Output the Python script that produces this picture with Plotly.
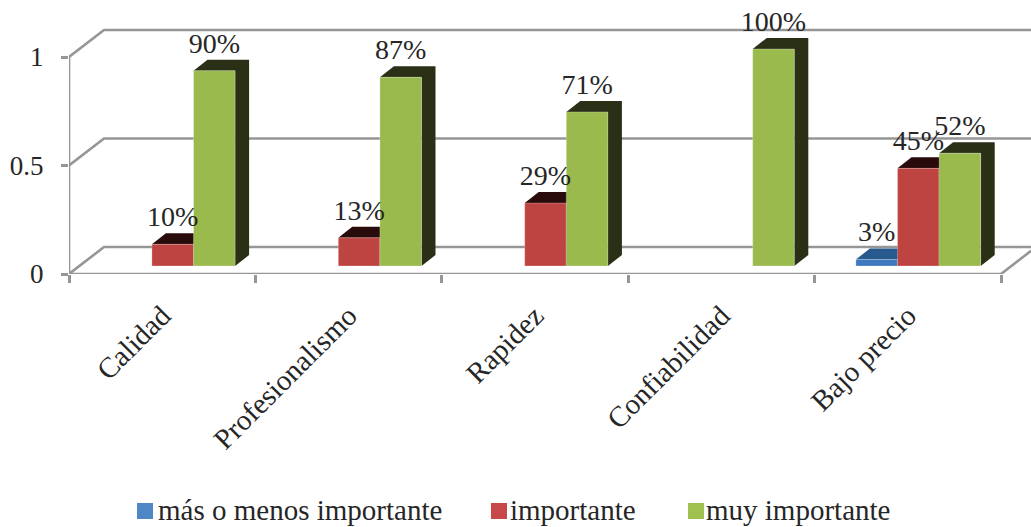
import plotly.graph_objects as go

categories = ["Calidad", "Profesionalismo", "Rapidez", "Confiabilidad", "Bajo precio"]
mas_o_menos = [None, None, None, None, 0.03]
importante = [0.10, 0.13, 0.29, None, 0.45]
muy_importante = [0.90, 0.87, 0.71, 1.00, 0.52]
y_ticks = [0, 0.5, 1]
y_tick_labels = ["0", "0.5", "1"]

W, H = 1031, 527
X0, X5, Y0, Y1 = 69, 1001, 274, 57
px_x = (X5 - X0) / len(categories)
px_y = float(Y0 - Y1)
x_range = [0, (W - X0) / px_x]
y_range = [0, Y0 / px_y]

# Projection of the 3-D box, in axis units
wall_dx, wall_dy = 35 / px_x, 27 / px_y
bar_dx, bar_dy = 14 / px_x, 11 / px_y
bar_width = 41.6 / px_x
bar_start = 41.3 / px_x
bar_base = 8 / px_y
label_gap = 25 / px_y

FONT = "Liberation Serif"
INK = "#262626"
GRID = "#969696"
GRID_W = 2.6

series = [
    ("más o menos importante", mas_o_menos, "#3F79BE", "#295A8E", "#4F86C6"),
    ("importante", importante, "#BE4441", "#2A0B0B", "#C8484A"),
    ("muy importante", muy_importante, "#9BBA4D", "#2A3016", "#A0C050"),
]

fig = go.Figure()

# Back wall, side wall and floor
wall_x, wall_y = [], []
for t in y_ticks:
    wall_x += [0, wall_dx, x_range[1], None]
    wall_y += [t, t + wall_dy, t + wall_dy, None]
wall_x += [0, 0, None, 0, len(categories), x_range[1], None]
wall_y += [0, 1, None, 0, 0, (x_range[1] - len(categories)) * wall_dy / wall_dx, None]
fig.add_trace(go.Scatter(x=wall_x, y=wall_y, mode="lines", hoverinfo="skip", showlegend=False,
                         line=dict(color=GRID, width=GRID_W)))

# Top and side faces sit behind every front face
for k, (name, values, front, dark, _) in enumerate(series):
    fx, fy = [], []
    for i, v in enumerate(values):
        if v is None:
            continue
        left = i + bar_start + k * bar_width
        right = left + bar_width
        top = bar_base + v
        fx += [left, left + bar_dx, right + bar_dx, right + bar_dx, right, right, None]
        fy += [top, top + bar_dy, top + bar_dy, bar_base + bar_dy, bar_base, top, None]
    fig.add_trace(go.Scatter(x=fx, y=fy, mode="lines", fill="toself", fillcolor=dark,
                             line=dict(width=0, color=dark), hoverinfo="skip", showlegend=False))

# Front faces and value labels on the overlaid axes
for k, (name, values, front, dark, _) in enumerate(series):
    xs = [i + bar_start + (k + 0.5) * bar_width for i in range(len(values))]
    fig.add_trace(go.Bar(x=xs, y=values, base=bar_base, width=bar_width, name=name,
                         marker=dict(color=front, line=dict(color="rgba(255,255,255,0.25)", width=1)),
                         xaxis="x2", yaxis="y2", showlegend=False))
for k, (name, values, front, dark, _) in enumerate(series):
    kept = [(i, v) for i, v in enumerate(values) if v is not None]
    fig.add_trace(go.Scatter(
        x=[i + bar_start + (k + 0.5) * bar_width for i, _ in kept],
        y=[bar_base + v + label_gap for _, v in kept],
        text=[f"{round(v * 100)}%" for _, v in kept],
        mode="text", textposition="middle center", cliponaxis=False,
        textfont=dict(family=FONT, size=28, color=INK),
        xaxis="x2", yaxis="y2", hoverinfo="skip", showlegend=False))

# Legend row
legend_items = [(137, 156), (491, 508), (688, 704)]
shapes, notes = [], []
for (swatch_x, text_x), (name, _, _, _, swatch) in zip(legend_items, series):
    shapes.append(dict(type="rect", xref="paper", yref="paper", line=dict(width=0),
                       fillcolor=swatch, x0=swatch_x / W, x1=(swatch_x + 16) / W,
                       y0=1 - 519 / H, y1=1 - 503 / H))
    notes.append(dict(text=name, xref="paper", yref="paper", x=text_x / W, y=1 - 510 / H,
                      xanchor="left", yanchor="middle", showarrow=False,
                      font=dict(family=FONT, size=29, color=INK)))

domain_x = [X0 / W, 1]
domain_y = [1 - Y0 / H, 1]
fig.update_layout(
    width=W, height=H, margin=dict(l=0, r=0, t=0, b=0, autoexpand=False),
    paper_bgcolor="white", plot_bgcolor="white", showlegend=False, barmode="overlay",
    shapes=shapes, annotations=notes,
    xaxis=dict(domain=domain_x, range=x_range, showgrid=False, zeroline=False, showline=False,
               tickmode="array", tickvals=[i + 0.5 for i in range(len(categories))],
               ticktext=categories, tickangle=-45, ticks="", ticklabelstandoff=18,
               tickfont=dict(family=FONT, size=29, color=INK),
               minor=dict(tickmode="array", tickvals=list(range(len(categories) + 1)),
                          ticks="outside", ticklen=8, tickwidth=GRID_W, tickcolor=GRID, showgrid=False)),
    yaxis=dict(domain=domain_y, range=y_range, showgrid=False, zeroline=False, showline=False,
               tickmode="array", tickvals=y_ticks, ticktext=y_tick_labels,
               ticks="outside", ticklen=7, tickwidth=GRID_W, tickcolor=GRID, ticklabelstandoff=12,
               tickfont=dict(family=FONT, size=27, color=INK)),
    xaxis2=dict(domain=domain_x, range=x_range, overlaying="x", visible=False),
    yaxis2=dict(domain=domain_y, range=y_range, overlaying="y", visible=False),
)

fig.write_html("out.html")
